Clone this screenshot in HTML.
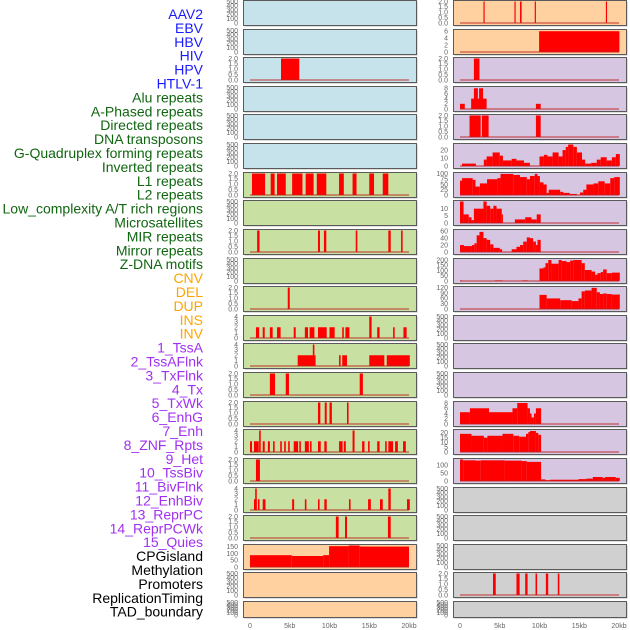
<!DOCTYPE html>
<html><head><meta charset="utf-8"><style>
body{margin:0;background:#fff;}
svg{display:block;font-family:"Liberation Sans",sans-serif;}
</style></head><body>
<svg id="chart" width="630" height="630" viewBox="0 0 630 630"></svg>
<script>
// ---- labels ----
const trackLabels = ["AAV2","EBV","HBV","HIV","HPV","HTLV-1","Alu repeats","A-Phased repeats","Directed repeats","DNA transposons","G-Quadruplex forming repeats","Inverted repeats","L1 repeats","L2 repeats","Low_complexity A/T rich regions","Microsatellites","MIR repeats","Mirror repeats","Z-DNA motifs","CNV","DEL","DUP","INS","INV","1_TssA","2_TssAFlnk","3_TxFlnk","4_Tx","5_TxWk","6_EnhG","7_Enh","8_ZNF_Rpts","9_Het","10_TssBiv","11_BivFlnk","12_EnhBiv","13_ReprPC","14_ReprPCWk","15_Quies","CPGisland","Methylation","Promoters","ReplicationTiming","TAD_boundary"];
const labelGroups = [6,13,5,15,5];
const groupColors = ["#1a1aff","#116611","#ffa500","#a030f0","#000000"];
// ---- tick label sets ----
const ticksEmpty = ["0","100","200","300","400","500"];
const ticks2 = ["0.0","0.5","1.0","1.5","2.0"];
const ticks4 = ["0","1","2","3","4"];
const xTickLabels = ["0","5kb","10kb","15kb","20kb"];
const xTickValues = [0,5,10,15,20];
// ---- segment data [startKb, endKb, value] ----
const L_hiv = [[3.9,6.2,2]];
const L_r6 = [[0.25,1.9,2],[2.6,3.1,2],[3.4,4.5,2],[5.3,6.6,2],[7.0,8.0,2],[8.4,9.6,2],[11.2,11.8,2],[12.9,13.4,2],[15.0,15.6,2],[16.7,17.4,2]];
const L_r8 = [[0.9,1.2,2],[8.55,8.8,2],[9.3,9.6,2],[13.3,13.5,2],[17.4,17.7,2],[19.0,19.2,2]];
const L_r10 = [[4.75,5.0,2]];
const L_r11 = [[0.75,1.15,2],[1.6,1.85,2],[2.5,2.85,2],[3.4,3.85,2],[5.5,5.75,2],[6.9,7.3,2],[7.5,8.1,2],[8.55,9.65,2],[10.0,10.65,2],[11.6,11.8,2],[12.0,12.5,2],[15.0,15.3,4],[16.0,16.3,2],[18.0,18.2,2],[19.3,19.7,2]];
const L_r12 = [[6.0,8.25,2],[7.9,8.1,4],[11.2,11.4,2],[11.6,12.2,2],[15.0,16.9,2],[17.2,20.1,2]];
const L_r13 = [[2.5,3.15,2],[4.5,4.9,2],[13.8,14.2,2]];
const L_r14 = [[8.55,8.85,2],[9.4,9.65,2],[10.0,10.3,2],[12.2,12.4,2]];
const L_r15 = [[0,0.25,2],[0.5,1.1,2],[1.15,1.35,4],[1.6,1.85,2],[2.25,2.5,2],[2.9,3.1,2],[3.8,4.0,2],[4.3,4.5,2],[4.8,5.0,2],[5.5,6.05,2],[6.2,6.4,2],[6.9,7.4,2],[7.55,7.75,2],[8.55,8.9,2],[9.35,9.65,2],[11.2,11.65,2],[11.8,12.05,2],[12.9,13.15,4],[14.1,14.4,2],[14.85,15.05,2],[16.0,16.3,2],[17.0,17.2,2],[17.4,18.0,2],[18.25,18.6,2],[19.25,19.6,2]];
const L_r16 = [[0.75,1.25,2]];
const L_r17 = [[0.5,0.85,2],[0.65,0.85,4],[1.0,1.2,2],[1.6,1.95,2],[5.3,5.55,2],[6.9,7.1,2],[8.55,8.75,2],[9.35,9.65,2],[12.45,12.65,2],[14.85,15.2,2],[16.35,16.7,2],[17.4,17.7,4],[19.75,20.1,2]];
const L_r18 = [[10.8,11.15,2],[11.95,12.2,2],[17.35,17.7,2]];
const L_r19 = [[0,5.25,88],[5.25,9.2,82],[9.2,9.95,88],[9.95,12.4,155],[12.4,13.8,160],[13.8,20,152]];
const R_r0 = [[2.95,3.1,2],[6.85,7.0,2],[7.55,7.75,2],[9.4,9.55,2],[18.35,18.5,2]];
const R_r1 = [[9.95,20.05,6]];
const R_r2 = [[1.75,2.45,2]];
const R_r3 = [[0,0.6,2],[1.4,3.35,4],[1.75,2.25,8],[2.4,2.9,8],[9.55,10.15,2]];
const R_r4 = [[1.2,2.6,2],[2.75,3.6,2],[9.55,10.15,2]];
const R_r5 = [[0.25,2.0,3],[3.0,3.35,8],[3.35,4.1,12],[4.1,5.0,17],[5.0,5.4,13],[5.4,6.5,7],[6.5,7.1,9],[7.1,8.05,7],[8.05,8.8,4],[10.0,10.55,12],[10.55,11.0,14],[11.0,11.65,12],[11.65,12.4,17],[12.4,12.9,12],[12.9,13.3,20],[13.3,13.6,24],[13.6,14.25,27],[14.25,14.7,24],[14.7,15.35,17],[15.35,15.75,8],[15.75,16.5,3],[16.5,17.2,4],[17.2,17.7,8],[17.7,18.45,11],[18.45,19.1,7],[19.1,19.6,11],[19.6,20.1,15]];
const R_r6 = [[0,0.25,68],[0.25,1.6,80],[1.6,1.95,72],[1.95,2.5,40],[2.5,3.4,55],[3.4,4.7,75],[4.7,5.1,80],[5.1,6.7,100],[6.7,7.55,95],[7.55,8.4,85],[8.4,8.8,75],[8.8,9.4,90],[9.4,9.75,100],[9.75,10.05,90],[10.05,10.5,60],[10.5,10.9,50],[10.9,11.15,10],[11.15,12.6,25],[12.6,13.0,15],[13.0,13.8,10],[13.8,14.7,5],[15.1,15.5,12],[15.5,15.9,25],[15.9,16.8,50],[16.8,17.4,55],[17.4,18.2,65],[18.2,18.9,55],[18.9,19.4,80],[19.4,20.1,85]];
const R_r7 = [[0,0.45,15],[0.45,1.1,6],[1.1,1.45,4],[1.45,1.75,2],[1.75,2.95,10],[2.95,3.35,15],[3.35,3.8,12],[3.8,4.2,10],[4.2,4.6,12],[4.6,5.25,10],[5.25,5.4,6],[6.9,8.2,2.5],[8.2,9.0,4],[9.0,9.65,2.5],[9.65,10.15,6]];
const R_r8 = [[0,0.5,20],[0.5,1.5,17],[1.5,1.8,20],[1.8,2.1,25],[2.1,2.45,48],[2.45,2.95,58],[2.95,3.35,40],[3.35,3.8,35],[3.8,4.2,22],[4.2,5.0,12],[5.0,5.3,8],[6.5,7.1,8],[7.1,7.55,15],[7.55,7.95,20],[7.95,8.4,30],[8.4,8.8,42],[8.8,9.2,40],[9.2,9.55,30],[9.55,9.75,20],[9.75,10.15,35]];
const R_r9 = [[0,0.25,5],[4.4,5.35,5],[7.8,8.55,5],[10.0,10.5,120],[10.5,10.75,130],[10.75,11.1,170],[11.1,11.5,200],[11.5,12.4,165],[12.4,12.8,200],[12.8,13.4,190],[13.4,13.85,180],[13.85,14.25,195],[14.25,15.3,200],[15.3,15.7,170],[15.7,16.55,105],[16.55,17.0,90],[17.0,17.3,60],[17.3,17.7,75],[17.7,18.0,85],[18.0,18.45,110],[18.45,19.1,75],[19.1,20.1,80]];
const R_r10 = [[10.0,10.9,80],[10.9,12.6,60],[12.6,14.05,50],[14.05,14.9,45],[14.9,15.3,60],[15.3,15.7,100],[15.7,16.55,105],[16.55,17.2,120],[17.2,17.6,95],[17.6,18.0,85],[18.0,18.45,88],[18.45,19.1,85],[19.1,20.1,82]];
const R_r14 = [[0,1.25,4.5],[1.25,3.65,6],[3.65,6.6,4.5],[6.6,7.2,6],[7.2,8.5,8],[8.5,8.8,6],[8.8,9.0,4],[9.0,9.3,2.5],[9.3,9.55,4],[9.55,10.2,6]];
const R_r15 = [[0,1.45,19],[1.45,3.0,17],[3.0,3.45,15],[3.45,5.35,17],[5.35,6.7,19],[6.7,7.45,17],[7.45,8.3,16],[8.3,8.6,19],[8.6,8.8,21],[8.8,9.55,22],[9.55,9.85,20],[9.85,10.2,18]];
const R_r16 = [[0,0.4,135],[0.4,1.95,130],[1.95,2.6,128],[2.6,5.65,130],[5.65,7.75,128],[7.75,8.4,125],[8.4,10.2,120],[10.2,10.75,10],[10.75,11.3,5],[11.3,14.9,8],[14.9,15.9,12],[15.9,16.7,15],[16.7,17.95,25],[17.95,18.25,20],[18.25,19.6,25],[19.6,20.1,20]];
const R_r20 = [[4.15,4.5,2],[7.1,7.5,2],[8.2,8.5,2],[9.5,9.7,2],[10.8,11.1,2],[12.3,12.5,2]];

const BLUE="#c6e3ec", GREEN="#c8e0a2", ORANGE="#ffd0a0", PURPLE="#d6c6e2", GRAY="#d0d0d0";
// panels: col, row, bg, tick labels, ymax, segments
const panels = [
 [0,0,BLUE,ticksEmpty,500,null],[0,1,BLUE,ticksEmpty,500,null],[0,2,BLUE,ticks2,2,L_hiv],
 [0,3,BLUE,ticksEmpty,500,null],[0,4,BLUE,ticksEmpty,500,null],[0,5,BLUE,ticksEmpty,500,null],
 [0,6,GREEN,ticks2,2,L_r6],[0,7,GREEN,ticksEmpty,500,null],[0,8,GREEN,ticks2,2,L_r8],
 [0,9,GREEN,ticksEmpty,500,null],[0,10,GREEN,ticks2,2,L_r10],[0,11,GREEN,ticks4,4,L_r11],
 [0,12,GREEN,ticks4,4,L_r12],[0,13,GREEN,ticks2,2,L_r13],[0,14,GREEN,ticks2,2,L_r14],
 [0,15,GREEN,ticks4,4,L_r15],[0,16,GREEN,ticks2,2,L_r16],[0,17,GREEN,ticks4,4,L_r17],
 [0,18,GREEN,ticks2,2,L_r18],[0,19,ORANGE,["0","50","100","150"],160,L_r19],
 [0,20,ORANGE,ticksEmpty,500,null],[0,21,ORANGE,ticksEmpty,500,null],
 [1,0,ORANGE,ticks2,2,R_r0],[1,1,ORANGE,["0","2","4","6"],6.2,R_r1],[1,2,PURPLE,ticks2,2,R_r2],
 [1,3,PURPLE,["0","2","4","6","8"],8.3,R_r3],[1,4,PURPLE,ticks2,2,R_r4],
 [1,5,PURPLE,["0","10","20"],27,R_r5],[1,6,PURPLE,["0","25","50","75","100"],102,R_r6],
 [1,7,PURPLE,["0","5","10"],15,R_r7],[1,8,PURPLE,["0","20","40","60"],62,R_r8],
 [1,9,PURPLE,["0","50","100","150","200"],205,R_r9],[1,10,PURPLE,["0","30","60","90","120"],122,R_r10],
 [1,11,PURPLE,ticksEmpty,500,null],[1,12,PURPLE,ticksEmpty,500,null],[1,13,PURPLE,ticksEmpty,500,null],
 [1,14,PURPLE,["0","2","4","6","8"],8.2,R_r14],[1,15,PURPLE,["0","5","10","15","20"],22.5,R_r15],
 [1,16,PURPLE,["0","50","100"],135,R_r16],[1,17,GRAY,ticksEmpty,500,null],[1,18,GRAY,ticksEmpty,500,null],
 [1,19,GRAY,ticksEmpty,500,null],[1,20,GRAY,ticks2,2,R_r20],[1,21,GRAY,ticksEmpty,500,null]
];

const NS="http://www.w3.org/2000/svg";
const svg=document.getElementById('chart');
function mk(tag,attrs,parent){const e=document.createElementNS(NS,tag);for(const k in attrs)e.setAttribute(k,attrs[k]);(parent||svg).appendChild(e);return e;}

// left labels
let li=0;
labelGroups.forEach((n,g)=>{for(let k=0;k<n;k++){
  const t=mk('text',{x:203,y:(19+li*13.9).toFixed(1),'text-anchor':'end','font-size':14,fill:groupColors[g]});
  
  
  t.textContent=trackLabels[li];li++;}});

const colX=[243,453], PW=173;
function rowTop(r){return Math.round(r*28.62);}
function rowH(r){return r===21?16:25;}
function xs(col,kb){return colX[col]+7+kb/20*159;}

panels.forEach(p=>{
  const [col,row,bg,ticks,ymax,segs]=p;
  const top=rowTop(row),h=rowH(row),x0=colX[col];
  const ys=v=>top+1.5+(1-v/ymax)*(h-3.5);
  const g=mk('g',{});
  
  
  mk('rect',{x:x0+1.5,y:top+1.5,width:PW,height:h,fill:'#bbb'},g);
  mk('rect',{x:x0+0.5,y:top+0.5,width:PW,height:h,fill:bg,stroke:'#5a5a5a','stroke-width':1},g);
  if(segs){
    segs.forEach(s=>{
      const r=mk('rect',{x:xs(col,s[0]).toFixed(2),y:ys(s[2]).toFixed(2),width:Math.max(1,xs(col,s[1])-xs(col,s[0])).toFixed(2),height:(ys(0)-ys(s[2])).toFixed(2),fill:'#ff0000'},g);
      
      
    });
    mk('line',{x1:xs(col,0),x2:xs(col,20),y1:ys(0),y2:ys(0),stroke:'rgba(190,30,30,0.6)','stroke-width':1.5},g);
  }
  const n=ticks.length;
  ticks.forEach((lab,i)=>{
    const v=ymax===500?i*100:parseFloat(lab);
    const t=mk('text',{x:x0-5,y:(ys(v)+2.3).toFixed(1),'text-anchor':'end','font-size':7,fill:'#666'},g);
    
    
    t.textContent=lab;
  });
});

[0,1].forEach(col=>{xTickValues.forEach((v,i)=>{
  const t=mk('text',{x:xs(col,v).toFixed(1),y:628,'text-anchor':'middle','font-size':7,fill:'#666'});
  
  
  t.textContent=xTickLabels[i];
});});
</script>
</body></html>
